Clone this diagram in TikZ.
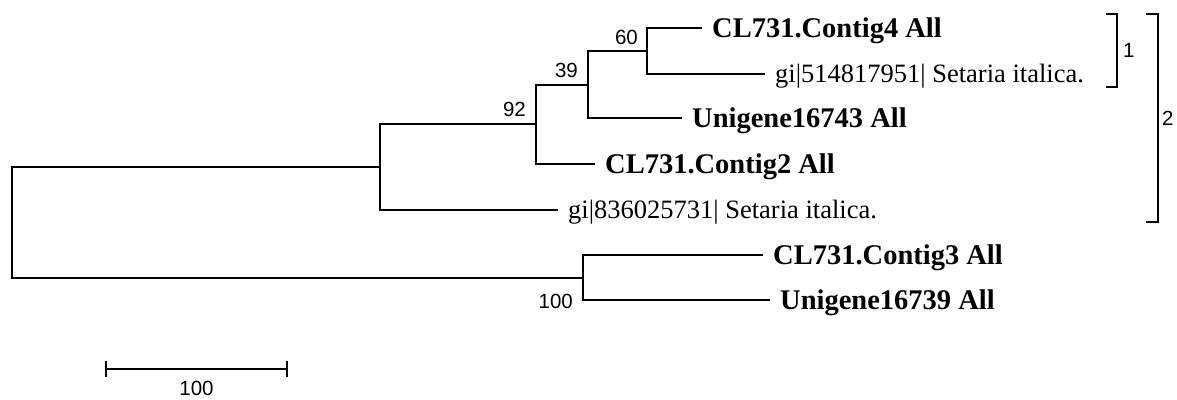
\documentclass[tikz,border=0pt]{standalone}
\usepackage{fontspec}
\setmainfont{Liberation Serif}
\newfontfamily\numfont{Liberation Sans}
\usetikzlibrary{calc}
\tikzset{
  branch/.style={line width=1.7pt, line join=miter},
  taxb/.style={anchor=west, inner sep=0pt, font=\fontsize{28.5}{30}\selectfont\bfseries, text height=18.9pt, text depth=0pt},
  taxr/.style={anchor=west, inner sep=0pt, font=\fontsize{26.5}{28}\selectfont, text height=17.6pt, text depth=0pt},
  boot/.style={inner sep=0pt, font=\numfont\fontsize{20.5}{22}\selectfont, text height=14.7pt, text depth=0pt},
}
\begin{document}
\begin{tikzpicture}[x=1pt, y=-1pt]
\useasboundingbox (0,0) rectangle (1177,399);
% internal nodes
\coordinate (root) at (12,222.5);
\coordinate (nA)   at (380,167);
\coordinate (n92)  at (536,124);
\coordinate (n39)  at (588,85);
\coordinate (n60)  at (647,51);
\coordinate (n100) at (583,278);
% leaf labels
\node[taxb] (L4)   at (712,28)  {CL731.Contig4 All};
\node[taxr] (L514) at (775,74)  {gi|514817951| Setaria italica.};
\node[taxb] (L743) at (692,118) {Unigene16743 All};
\node[taxb] (LC2)  at (605,164) {CL731.Contig2 All};
\node[taxr] (L836) at (568,210) {gi|836025731| Setaria italica.};
\node[taxb] (LC3)  at (773,255) {CL731.Contig3 All};
\node[taxb] (L739) at (780,300) {Unigene16739 All};
% branches
\draw[branch] (root) |- (nA);
\draw[branch] (root) |- (n100);
\draw[branch] (nA) |- (n92);
\draw[branch, shorten >=10pt] (nA) |- (L836.west);
\draw[branch] (n92) |- (n39);
\draw[branch, shorten >=10pt] (n92) |- (LC2.west);
\draw[branch] (n39) |- (n60);
\draw[branch, shorten >=10pt] (n39) |- (L743.west);
\draw[branch, shorten >=10pt] (n60) |- (L4.west);
\draw[branch, shorten >=10pt] (n60) |- (L514.west);
\draw[branch, shorten >=10pt] (n100) |- (LC3.west);
\draw[branch, shorten >=10pt] (n100) |- (L739.west);
% bootstrap values
\node[boot, anchor=south east] (b60) at ($(n60)+(-9,-6)$) {60};
\node[boot, anchor=south east] (b39) at ($(n39)+(-10,-7)$) {39};
\node[boot, anchor=south east] (b92) at ($(n92)+(-10,-7)$) {92};
\node[boot, anchor=north east] (b100) at ($(n100)+(-10,16)$) {100};
% brackets
\draw[branch] (1106,14) -| (1117,87) -- (1106,87);
\node[boot, anchor=west] (br1) at (1123,50) {1};
\draw[branch] (1146,14) -| (1158,222) -- (1146,222);
\node[boot, anchor=west] (br2) at (1162,118) {2};
% scale bar
\coordinate (sb1) at (106,369);
\coordinate (sb2) at (287,369);
\draw[branch] (sb1) -- (sb2);
\draw[branch] ($(sb1)+(0,-8)$) -- ($(sb1)+(0,8)$);
\draw[branch] ($(sb2)+(0,-8)$) -- ($(sb2)+(0,8)$);
\node[boot, anchor=north] (sbl) at (196.5,381) {100};
\end{tikzpicture}
\end{document}
